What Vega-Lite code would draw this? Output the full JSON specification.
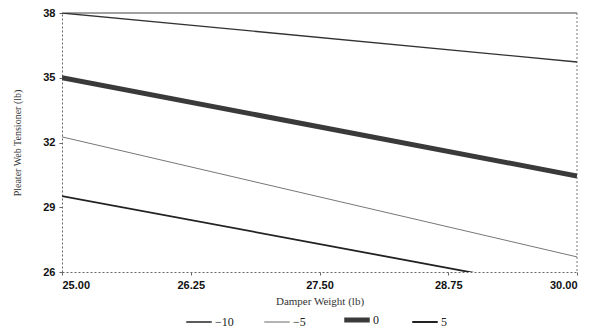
{
  "$schema": "https://vega.github.io/schema/vega-lite/v6.json",
  "width": 515,
  "height": 259,
  "autosize": {"type": "none"},
  "padding": {"left": 62, "top": 13, "right": 28, "bottom": 61},
  "background": "white",
  "config": {
    "view": {"stroke": null},
    "axis": {
      "domainColor": "#666",
      "domainDash": [2, 2],
      "tickColor": "#666",
      "tickSize": 3,
      "grid": false,
      "labelFont": "Liberation Sans",
      "labelFontWeight": "bold",
      "labelFontSize": 11,
      "labelColor": "#111",
      "titleFont": "Liberation Serif",
      "titleFontWeight": "normal",
      "titleFontSize": 11,
      "titleColor": "#333333"
    },
    "legend": {
      "layout": {"bottom": {"anchor": "middle"}}
    }
  },
  "datasets": {
    "lines": [
      {"w": 25, "t": 38.0, "s": "−10"},
      {"w": 30, "t": 35.73, "s": "−10"},
      {"w": 25, "t": 32.26, "s": "−5"},
      {"w": 30, "t": 26.7, "s": "−5"},
      {"w": 25, "t": 35.0, "s": "0"},
      {"w": 30, "t": 30.45, "s": "0"},
      {"w": 25, "t": 29.52, "s": "5"},
      {"w": 30, "t": 25.07, "s": "5"}
    ]
  },
  "encoding": {
    "x": {
      "field": "w",
      "type": "quantitative",
      "scale": {"domain": [25, 30], "nice": false, "zero": false},
      "axis": {"values": [25, 26.25, 27.5, 28.75, 30], "format": ".2f", "title": "Damper Weight (lb)", "labelPadding": 4, "titlePadding": 5}
    },
    "y": {
      "field": "t",
      "type": "quantitative",
      "scale": {"domain": [26, 38], "nice": false, "zero": false},
      "axis": {"values": [26, 29, 32, 35, 38], "title": "Pleater Web Tensioner (lb)", "titlePadding": 20, "titleFontSize": 10, "labelPadding": 4}
    },
    "color": {
      "field": "s",
      "type": "nominal",
      "scale": {"domain": ["−10", "−5", "0", "5"], "range": ["#333333", "#777777", "#3a3a3a", "#222222"]},
      "legend": {
        "title": null,
        "orient": "bottom",
        "direction": "horizontal",
        "symbolType": "stroke",
        "symbolSize": 650,
        "labelOffset": 10,
        "labelFont": "Liberation Serif",
        "labelFontSize": 12,
        "labelColor": "#222",
        "columnPadding": 28,
        "offset": 8,
        "encode": {
          "symbols": {
            "update": {
              "strokeWidth": {"signal": "datum.label === '0' ? 5 : datum.label === '5' ? 2 : datum.label === '−10' ? 1.6 : 1.1"}
            }
          }
        }
      }
    }
  },
  "layer": [
    {
      "data": {"values": [{"y": 38}]},
      "mark": {"type": "rule", "color": "#444", "strokeWidth": 1},
      "encoding": {"x": null, "color": null, "y": {"field": "y", "type": "quantitative"}}
    },
    {
      "data": {"values": [{"x": 30}]},
      "mark": {"type": "rule", "color": "#777", "strokeWidth": 1, "strokeDash": [2, 2]},
      "encoding": {"y": null, "color": null, "x": {"field": "x", "type": "quantitative"}}
    },
    {
      "data": {"name": "lines"},
      "transform": [{"filter": "datum.s === '−10'"}],
      "mark": {"type": "line", "clip": true, "strokeWidth": 1.3}
    },
    {
      "data": {"name": "lines"},
      "transform": [{"filter": "datum.s === '−5'"}],
      "mark": {"type": "line", "clip": true, "strokeWidth": 1}
    },
    {
      "data": {"name": "lines"},
      "transform": [{"filter": "datum.s === '0'"}],
      "mark": {"type": "line", "clip": true, "strokeWidth": 5}
    },
    {
      "data": {"name": "lines"},
      "transform": [{"filter": "datum.s === '5'"}],
      "mark": {"type": "line", "clip": true, "strokeWidth": 1.8}
    }
  ]
}
